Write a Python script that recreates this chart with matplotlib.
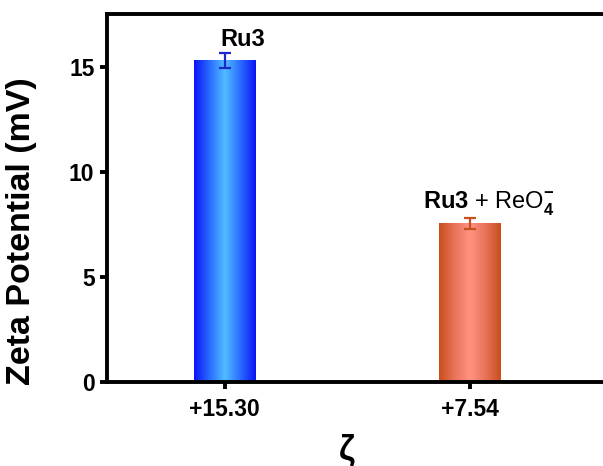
import matplotlib
matplotlib.use('Agg')

import matplotlib.pyplot as plt
import numpy as np
from matplotlib.colors import LinearSegmentedColormap

# data
samples = ['Ru3', 'Ru3 + ReO4-']
tick_labels = ['+15.30', '+7.54']
zeta = [15.30, 7.54]
errors = [0.35, 0.25]

plt.rcParams['font.family'] = ['Liberation Sans', 'DejaVu Sans']
plt.rcParams['font.weight'] = 'bold'
plt.rcParams['mathtext.fontset'] = 'custom'
plt.rcParams['mathtext.rm'] = 'Liberation Sans'
plt.rcParams['mathtext.bf'] = 'Liberation Sans:bold'

fig = plt.figure(figsize=(6.03, 4.66), dpi=100)
ax = fig.add_axes([0.1774, 0.1803, 0.83, 0.7897])

x = np.arange(len(zeta))
width = 0.25
bars = ax.bar(x, zeta, width=width, color='none', edgecolor='none', zorder=2)

# gradient fills (dark edges, light centre)
grad_colors = [
    ['#0a14f5', '#2a6cff', '#50bcff', '#2a6cff', '#0a14f5'],
    ['#c84e1c', '#e8745a', '#ff9282', '#e8745a', '#c84e1c'],
]
err_colors = ['#1e28c8', '#c8501e']
grad = np.linspace(0, 1, 256).reshape(1, -1)
for bar, cols in zip(bars, grad_colors):
    cmap = LinearSegmentedColormap.from_list('g', cols)
    x0 = bar.get_x()
    im = ax.imshow(grad, cmap=cmap, aspect='auto', zorder=2,
                   extent=[x0, x0 + bar.get_width(), 0, bar.get_height()])
    im.set_clip_path(bar)

for xi, v, e, c in zip(x, zeta, errors, err_colors):
    ax.errorbar(xi, v, yerr=e, fmt='none', ecolor=c, elinewidth=1.6,
                capsize=4, capthick=1.6, zorder=3)

ax.text(x[0] + 0.075, 16.3, samples[0], ha='center', va='center',
        fontsize=17, fontweight='bold')
ax.text(x[1] - 0.19, 8.5, r'$\mathbf{Ru3}$ + ReO$_4^{-}$', ha='left', va='center',
        fontsize=17, fontweight='normal')

ax.set_xlim(-0.48, 1.56)
ax.set_ylim(0, 17.5)
ax.set_yticks([0, 5, 10, 15])
ax.set_xticks(x)
ax.set_xticklabels(tick_labels)

for side in ['left', 'top', 'bottom']:
    ax.spines[side].set_linewidth(2.8)
ax.spines['right'].set_visible(False)

ax.tick_params(axis='both', direction='out', length=5, width=2.8,
               labelsize=16.5)
ax.tick_params(axis='x', pad=6.5)
ax.tick_params(axis='y', pad=4)
for lab in ax.get_xticklabels() + ax.get_yticklabels():
    lab.set_fontweight('bold')

ax.set_ylabel('Zeta Potential (mV)', fontsize=24.5, fontweight='bold')
ax.yaxis.set_label_coords(-0.139, 0.41)
ax.set_xlabel('ζ', fontsize=25, fontweight='bold')
ax.xaxis.set_label_coords(0.48, -0.14)

plt.savefig('out.png', dpi=100, facecolor='white')
plt.close()
